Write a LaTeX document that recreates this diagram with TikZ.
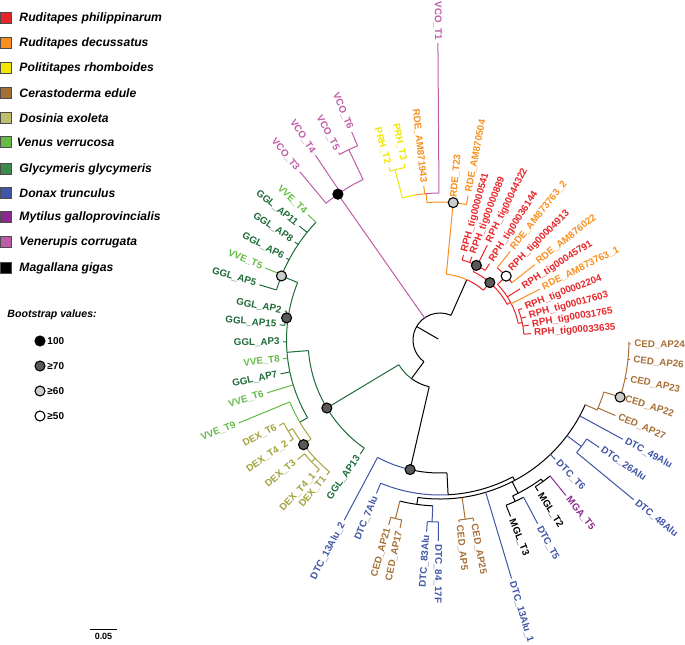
\documentclass[tikz,border=0pt]{standalone}
\usepackage{fontspec}
\setmainfont{Liberation Sans}
\usetikzlibrary{positioning}
\definecolor{rphRed}{HTML}{E8262A}
\definecolor{rdeOrange}{HTML}{F7901E}
\definecolor{prhYellow}{HTML}{F2E500}
\definecolor{cedBrown}{HTML}{A66F36}
\definecolor{dexOlive}{HTML}{A3A23C}
\definecolor{dexKey}{HTML}{BFBF70}
\definecolor{vveGreen}{HTML}{66BB46}
\definecolor{gglGreen}{HTML}{1E6B38}
\definecolor{gglKey}{HTML}{3B8A4B}
\definecolor{dtcBlue}{HTML}{3F55A5}
\definecolor{mgaPurple}{HTML}{8B2A8C}
\definecolor{vcoPink}{HTML}{BF5CA8}

% arc of a node: colour, radius, from angle, to angle
\newcommand\brarc[4]{\draw[#1] (#3:#2bp) arc[start angle=#3, end angle=#4, radius=#2bp];}
% radial branch: colour, angle, inner radius, outer radius
\newcommand\brrad[4]{\draw[#1] (#2:#3bp) -- (#2:#4bp);}
% leaf: colour, angle, parent radius, tip radius, name, label
\newcommand\leafbr[6]{%
  \draw[#1] (#2:#3bp) -- (#2:#4bp);
  \pgfmathsetmacro\lblr{#4+2.5}%
  \pgfmathtruncatemacro\lside{and(#2>90,#2<269)}%
  \ifnum\lside=1
    \node[lbl,text=#1,anchor=east,rotate=#2+180] (#5) at (#2:\lblr bp) {#6};%
  \else
    \node[lbl,text=#1,anchor=west,rotate=#2] (#5) at (#2:\lblr bp) {#6};%
  \fi}

\begin{document}
\begin{tikzpicture}[
x=1bp, y=1bp,
line width=1bp,
lbl/.style={font=\fontsize{9.8}{10}\selectfont\bfseries, inner sep=0.5bp},
bs/.style={circle, draw=black, line width=1.1bp, minimum size=10bp, inner sep=0pt},
key/.style={draw=black!70, line width=0.5bp, minimum size=10.5bp, inner sep=0pt},
keytext/.style={font=\fontsize{12.2}{14}\selectfont\bfseries\itshape, inner sep=0pt}
]
\useasboundingbox (-440,-305) rectangle (245,340);

% legend
\node[key,fill=rphRed] (kRph) at (-434,322) {};
\node[keytext,right=7.5bp of kRph] {Ruditapes philippinarum};
\node[key,fill=rdeOrange] (kRde) at (-434,297) {};
\node[keytext,right=7.5bp of kRde] {Ruditapes decussatus};
\node[key,fill=prhYellow] (kPrh) at (-434,272) {};
\node[keytext,right=7.5bp of kPrh] {Polititapes rhomboides};
\node[key,fill=cedBrown] (kCed) at (-434,247) {};
\node[keytext,right=7.5bp of kCed] {Cerastoderma edule};
\node[key,fill=dexKey] (kDex) at (-434,222) {};
\node[keytext,right=7.5bp of kDex] {Dosinia exoleta};
\node[key,fill=vveGreen] (kVve) at (-434,198) {};
\node[keytext,right=5bp of kVve] {Venus verrucosa};
\node[key,fill=gglKey] (kGgl) at (-434,171) {};
\node[keytext,right=7.5bp of kGgl] {Glycymeris glycymeris};
\node[key,fill=dtcBlue] (kDtc) at (-434,147) {};
\node[keytext,right=7.5bp of kDtc] {Donax trunculus};
\node[key,fill=mgaPurple] (kMga) at (-434,123) {};
\node[keytext,right=7.5bp of kMga] {Mytilus galloprovincialis};
\node[key,fill=vcoPink] (kVco) at (-434,98) {};
\node[keytext,right=7.5bp of kVco] {Venerupis corrugata};
\node[key,fill=black] (kMgl) at (-434,72) {};
\node[keytext,right=7.5bp of kMgl] {Magallana gigas};

\node[anchor=west, font=\fontsize{10.6}{12}\selectfont\bfseries\itshape, inner sep=0pt] (bsTitle) at (-433,25) {Bootstrap values:};
\node[bs,fill=black] (bs100) at (-400,-1) {};
\node[anchor=west, font=\fontsize{10}{12}\selectfont\bfseries, inner sep=0pt] at (-393,-1) {100};
\node[bs,fill=black!65] (bs70) at (-400,-26) {};
\node[anchor=west, font=\fontsize{10}{12}\selectfont\bfseries, inner sep=0pt] at (-393,-26) {≥70};
\node[bs,fill=black!20] (bs60) at (-400,-51) {};
\node[anchor=west, font=\fontsize{10}{12}\selectfont\bfseries, inner sep=0pt] at (-393,-51) {≥60};
\node[bs,fill=white] (bs50) at (-400,-76) {};
\node[anchor=west, font=\fontsize{10}{12}\selectfont\bfseries, inner sep=0pt] at (-393,-76) {≥50};

% scale bar
\coordinate (sbL) at (-350,-289);
\coordinate (sbR) at (-323,-289);
\draw[line width=1bp] (sbL) -- (sbR);
\node[anchor=north, font=\fontsize{9}{10}\selectfont\bfseries, inner sep=0pt] at (-336.5,-293) {0.05};

% root
\brrad{black}{150}{2}{27}
\brarc{black}{27}{66}{233.5}

% Ruditapes / Polititapes
\brrad{black}{66}{27}{66}
\brarc{rdeOrange}{66}{66}{84.5}
\brarc{rphRed}{66}{66}{49}
\brrad{rdeOrange}{84.5}{66}{138}
\brarc{rdeOrange}{138}{79}{95.4}
\leafbr{rdeOrange}{84.5}{138}{140}{rdeT23}{RDE\_T23}
\leafbr{rdeOrange}{79}{138}{147}{rdeAM870504}{RDE\_AM870504}
\brrad{rdeOrange}{95.4}{138}{147}
\brarc{vcoPink}{147}{95.4}{90.4}
\brarc{rdeOrange}{147}{95.4}{100}
\brarc{prhYellow}{147}{100}{104.8}
\leafbr{rdeOrange}{96}{147}{155}{rdeAM871943}{RDE\_AM871943}
\leafbr{vcoPink}{90.4}{147}{297}{vcoT1}{VCO\_T1}
\brrad{prhYellow}{104.8}{147}{176}
\brarc{prhYellow}{176}{101.5}{106.5}
\leafbr{prhYellow}{106.5}{176}{180}{prhT2}{PRH\_T2}
\leafbr{prhYellow}{101.5}{176}{180}{prhT3}{PRH\_T3}

\brrad{rphRed}{49}{66}{76}
\brarc{rphRed}{76}{28}{64}
\brrad{rphRed}{64}{76}{83}
\brarc{rphRed}{83}{57}{74.5}
\leafbr{rphRed}{74.5}{83}{88}{rph541}{RPH\_tig00000541}
\leafbr{rphRed}{69}{83}{89}{rph889}{RPH\_tig00000889}
\leafbr{rphRed}{63.5}{83}{106}{rph44322}{RPH\_tig00044322}
\leafbr{rphRed}{57}{83}{91}{rph36144}{RPH\_tig00036144}
\brrad{rphRed}{28}{76}{80}
\brarc{rphRed}{80}{12}{44}
\brrad{rphRed}{44}{80}{92}
\brarc{rphRed}{92}{38.5}{51.6}
\leafbr{rdeOrange}{51.6}{92}{113}{rdeAM873763b}{RDE\_AM873763\_2}
\leafbr{rphRed}{45}{92}{96}{rph4913}{RPH\_tig00004913}
\leafbr{rdeOrange}{38.5}{92}{121}{rdeAM876022}{RDE\_AM876022}
\leafbr{rphRed}{32.6}{80}{95}{rph45791}{RPH\_tig00045791}
\leafbr{rdeOrange}{27}{80}{112}{rdeAM873763a}{RDE\_AM873763\_1}
\brrad{rphRed}{12}{80}{84}
\brarc{rphRed}{84}{4}{21}
\leafbr{rphRed}{21}{84}{88}{rph2204}{RPH\_tig00002204}
\leafbr{rphRed}{15}{84}{89}{rph17603}{RPH\_tig00017603}
\leafbr{rphRed}{9.5}{84}{90}{rph31765}{RPH\_tig00031765}
\leafbr{rphRed}{4}{84}{91}{rph33635}{RPH\_tig00033635}

% Venerupis
\brrad{vcoPink}{125}{27}{178}
\brarc{vcoPink}{178}{115.6}{129.8}
\leafbr{vcoPink}{129.8}{178}{219}{vcoT3}{VCO\_T3}
\leafbr{vcoPink}{124}{178}{223}{vcoT4}{VCO\_T4}
\brrad{vcoPink}{115.6}{178}{211}
\brarc{vcoPink}{211}{113}{118.4}
\leafbr{vcoPink}{118.4}{211}{213}{vcoT5}{VCO\_T5}
\leafbr{vcoPink}{113}{211}{226}{vcoT6}{VCO\_T6}

% Glycymeris, Venus, Dosinia
\brrad{black}{233.5}{27}{48}
\brarc{gglGreen}{48}{211}{233.5}
\brarc{black}{48}{233.5}{257}
\brrad{gglGreen}{211}{48}{132}
\brarc{gglGreen}{132}{184.6}{235}
\leafbr{gglGreen}{235}{132}{139}{gglAP13}{GGL\_AP13}
\brrad{gglGreen}{184.6}{132}{153.5}
\brarc{gglGreen}{153.5}{158}{210.4}
\brrad{gglGreen}{158}{153.5}{171}
\brarc{gglGreen}{171}{136.5}{163}
\leafbr{vveGreen}{136.5}{171}{182}{vveT4}{VVE\_T4}
\leafbr{gglGreen}{141}{171}{181}{gglAP11}{GGL\_AP11}
\leafbr{gglGreen}{146}{171}{175}{gglAP8}{GGL\_AP8}
\leafbr{gglGreen}{152}{171}{174}{gglAP6}{GGL\_AP6}
\leafbr{vveGreen}{157.6}{171}{189}{vveT5}{VVE\_T5}
\leafbr{gglGreen}{163}{171}{189}{gglAP5}{GGL\_AP5}
\brrad{gglGreen}{171.8}{153.5}{156}
\brarc{gglGreen}{156}{169.4}{174.6}
\leafbr{gglGreen}{169.4}{156}{158}{gglAP2}{GGL\_AP2}
\leafbr{gglGreen}{174.6}{156}{161}{gglAP15}{GGL\_AP15}
\leafbr{gglGreen}{180.7}{153.5}{157}{gglAP3}{GGL\_AP3}
\leafbr{vveGreen}{186.8}{153.5}{158}{vveT8}{VVE\_T8}
\leafbr{gglGreen}{192}{153.5}{163}{gglAP7}{GGL\_AP7}
\leafbr{vveGreen}{197}{153.5}{181}{vveT6}{VVE\_T6}
\brrad{gglGreen}{210.4}{153.5}{162.5}
\brarc{vveGreen}{162.5}{202.4}{210.4}
\brarc{dexOlive}{162.5}{210.4}{217.5}
\leafbr{vveGreen}{202.4}{162.5}{218}{vveT9}{VVE\_T9}
\brrad{dexOlive}{217.5}{162.5}{172}
\brarc{dexOlive}{172}{211}{230}
\brrad{dexOlive}{211}{172}{177}
\brarc{dexOlive}{177}{208}{214}
\leafbr{dexOlive}{208}{177}{182}{dexT6}{DEX\_T6}
\leafbr{dexOlive}{214}{177}{181}{dexT4b}{DEX\_T4\_2}
\brrad{dexOlive}{223.5}{172}{177}
\brarc{dexOlive}{177}{220}{227}
\leafbr{dexOlive}{220}{177}{186}{dexT3}{DEX\_T3}
\leafbr{dexOlive}{227}{177}{181}{dexT4a}{DEX\_T4\_1}
\leafbr{dexOlive}{230}{172}{176}{dexT1}{DEX\_T1}

% Donax, Cerastoderma, Mytilus, Magallana
\brrad{black}{257}{48}{133}
\brarc{dtcBlue}{133}{242}{257}
\brarc{black}{133}{257}{273}
\leafbr{dtcBlue}{242}{133}{204}{dtc13Alu2}{DTC\_13Alu\_2}
\brrad{black}{273}{133}{155}
\brarc{dtcBlue}{155}{247.5}{273}
\brarc{black}{155}{273}{298}
\leafbr{dtcBlue}{247.5}{155}{166}{dtc7Alu}{DTC\_7Alu}
\brrad{black}{298}{155}{159}
\brarc{black}{159}{262}{336}
\brrad{black}{262}{159}{166}
\brarc{black}{166}{256}{267.5}
\brrad{cedBrown}{256}{166}{184}
\brarc{cedBrown}{184}{254.5}{258}
\leafbr{cedBrown}{254.5}{184}{192}{cedAP21}{CED\_AP21}
\leafbr{cedBrown}{258}{184}{192}{cedAP17}{CED\_AP17}
\brrad{dtcBlue}{267.5}{166}{182}
\brarc{dtcBlue}{182}{266}{269.5}
\leafbr{dtcBlue}{266}{182}{192}{dtc83Alu}{DTC\_83Alu}
\leafbr{dtcBlue}{269.5}{182}{201}{dtc84}{DTC\_84\_17F}
\brrad{cedBrown}{278}{159}{181}
\brarc{cedBrown}{181}{276}{280.5}
\leafbr{cedBrown}{276}{181}{183}{cedAP5}{CED\_AP5}
\leafbr{cedBrown}{280.5}{181}{184}{cedAP25}{CED\_AP25}
\leafbr{dtcBlue}{286.7}{159}{249}{dtc13Alu1}{DTC\_13Alu\_1}
\brrad{black}{297}{159}{172}
\brarc{black}{172}{295}{306}
\brrad{black}{295}{172}{178}
\brarc{black}{178}{291.8}{298}
\leafbr{black}{291.8}{178}{190}{mglT3}{MGL\_T3}
\leafbr{dtcBlue}{298}{178}{208}{dtcT5}{DTC\_T5}
\brrad{black}{306}{172}{175}
\brarc{black}{175}{303}{309}
\leafbr{black}{303}{175}{180}{mglT2}{MGL\_T2}
\leafbr{mgaPurple}{309}{175}{200}{mgaT5}{MGA\_T5}
\leafbr{dtcBlue}{314}{159}{166}{dtcT6}{DTC\_T6}
\brrad{dtcBlue}{323}{159}{177}
\brarc{dtcBlue}{177}{320.5}{326}
\leafbr{dtcBlue}{320.5}{177}{251}{dtc48Alu}{DTC\_48Alu}
\leafbr{dtcBlue}{326}{177}{192}{dtc26Alu}{DTC\_26Alu}
\leafbr{dtcBlue}{331.5}{159}{208}{dtc49Alu}{DTC\_49Alu}
\brrad{cedBrown}{336}{159}{172}
\brarc{cedBrown}{172}{336}{342.4}
\leafbr{cedBrown}{336.7}{172}{191}{cedAP27}{CED\_AP27}
\brrad{cedBrown}{342.4}{172}{189}
\brarc{cedBrown}{189}{342.4}{359.5}
\leafbr{cedBrown}{342.4}{189}{191}{cedAP22}{CED\_AP22}
\leafbr{cedBrown}{348.3}{189}{191}{cedAP23}{CED\_AP23}
\leafbr{cedBrown}{354.1}{189}{191}{cedAP26}{CED\_AP26}
\leafbr{cedBrown}{358.8}{189}{191}{cedAP24}{CED\_AP24}

% bootstrap support
\node[bs,fill=black] (nVco) at (125:178bp) {};
\node[bs,fill=black!20] (nRde) at (84.5:138bp) {};
\node[bs,fill=black!65] (nRphA) at (64:83bp) {};
\node[bs,fill=black!65] (nRph) at (49:76bp) {};
\node[bs,fill=white] (nRphB) at (44:92bp) {};
\node[bs,fill=black!20] (nGglA) at (158:171bp) {};
\node[bs,fill=black!65] (nGglB) at (171.8:155bp) {};
\node[bs,fill=black!65] (nGgl) at (211:132bp) {};
\node[bs,fill=black!65] (nDex) at (217.5:172bp) {};
\node[bs,fill=black!65] (nDtc) at (257:133bp) {};
\node[bs,fill=black!20] (nCed) at (342.4:189bp) {};
\end{tikzpicture}
\end{document}
